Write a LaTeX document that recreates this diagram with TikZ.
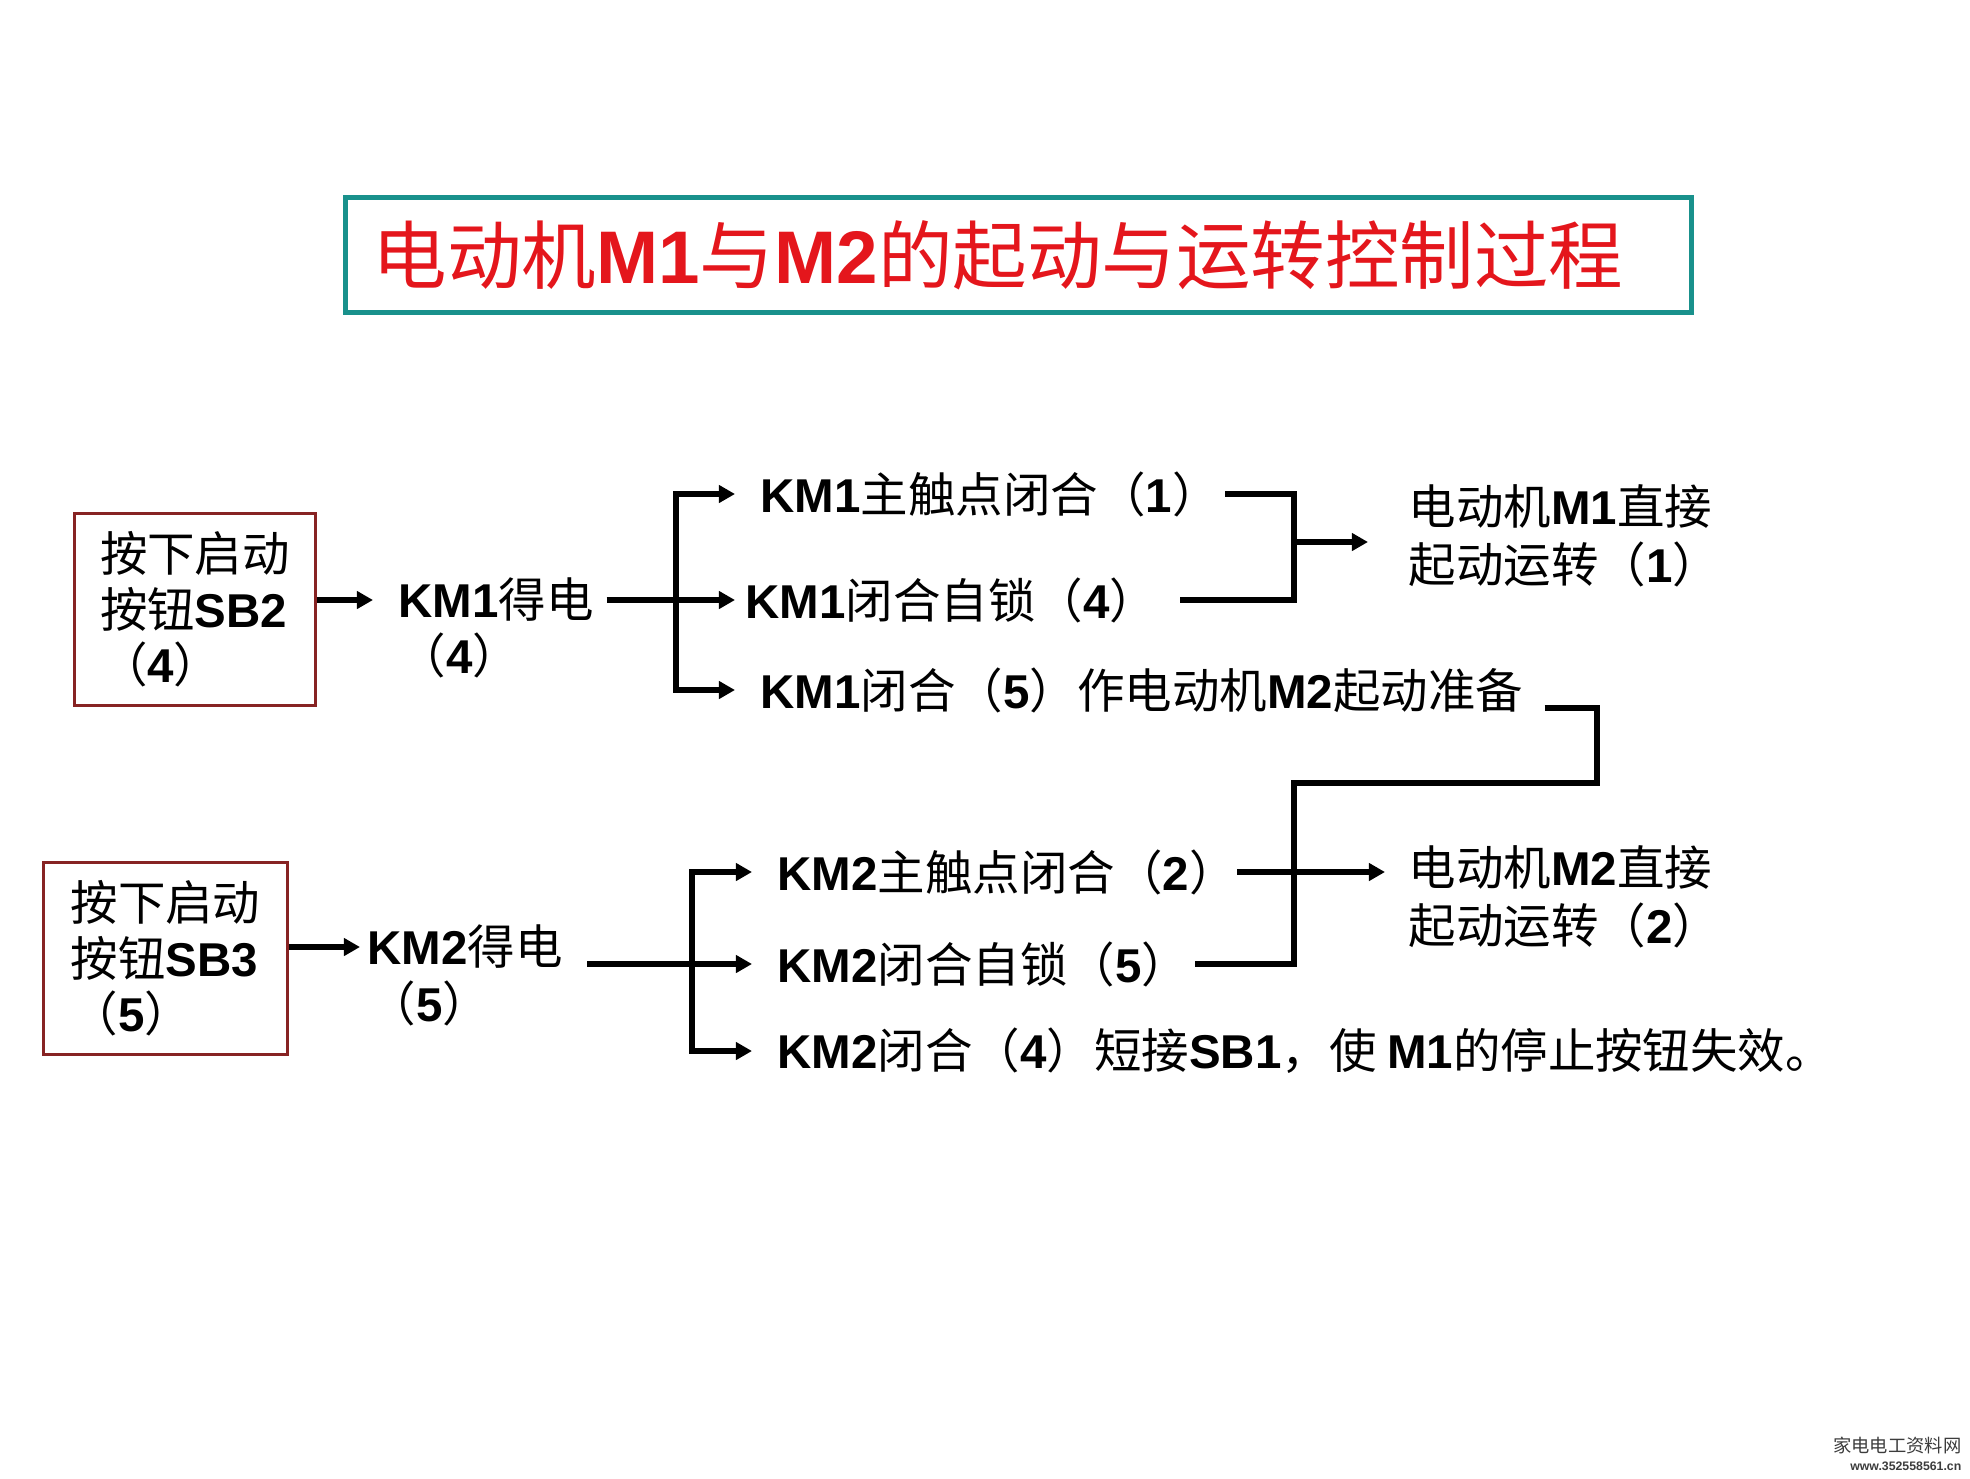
\documentclass[tikz,border=0pt]{standalone}
\usepackage{fontspec}
\setmainfont{Noto Sans CJK SC}
\newfontfamily\latfont{Liberation Sans}
\newcommand{\bw}[1]{{\latfont\bfseries #1}}
\usetikzlibrary{arrows.meta, shapes, positioning}

\definecolor{titleteal}{RGB}{25,145,140}
\definecolor{titlered}{RGB}{228,22,28}
\definecolor{boxred}{RGB}{135,35,35}
\definecolor{wmgray}{RGB}{60,60,60}

\tikzset{
	txt/.style={font=\fontsize{13.5}{15.8}\selectfont, inner sep=0pt, anchor=west},
	btn/.style={txt, draw=boxred, line width=0.8pt, align=left, anchor=north west, minimum height=1.92cm},
	wire/.style={line width=1.6pt},
	flow/.style={wire, -{Triangle[length=0.16cm, width=0.17cm]}}
}

\begin{document}
\begin{tikzpicture}[x=0.01cm, y=-0.01cm]
	\useasboundingbox (0,0) rectangle (1970,1478);

	% title
	\node[draw=titleteal, line width=1.5pt, anchor=north west, text width=12.91cm, inner xsep=0.27cm,
		minimum height=1.15cm, align=left, text=titlered, font=\fontsize{21.2}{24}\selectfont]
		(title) at (343,195) {电动机\bw{M1}与\bw{M2}的起动与运转控制过程};

	% M1
	\node[btn, minimum width=2.41cm] (sb2) at (73,512) {按下启动\\按钮\bw{SB2}\\（\bw{4}）};
	\node[txt] (km1) at (398,600) {\bw{KM1}得电};
	\node[txt] (km1n) at (398,655) {（\bw{4}）};
	\node[txt] (c11) at (760,494) {\bw{KM1}主触点闭合（\bw{1}）};
	\node[txt] (c12) at (745,600) {\bw{KM1}闭合自锁（\bw{4}）};
	\node[txt] (c13) at (760,690) {\bw{KM1}闭合（\bw{5}）作电动机\bw{M2}起动准备};
	\node[txt, align=left, font=\fontsize{13.5}{16.5}\selectfont] (r1) at (1408,536) {电动机\bw{M1}直接\\起动运转（\bw{1}）};

	\coordinate (b1) at (676,600);
	\coordinate (j1) at (1294,542);

	\draw[flow, shorten >=0.25cm] (sb2.east |- km1.west) -- (km1.west);
	\draw[flow, shorten <=0.12cm, shorten >=0.1cm] (km1.east) -- (c12.west);
	\draw[flow, shorten >=0.25cm] (b1) |- (c11.west);
	\draw[flow, shorten >=0.25cm] (b1) |- (c13.west);
	\draw[wire] ([xshift=0.05cm]c11.east) -| (j1) |- ([xshift=0.22cm]c12.east);
	\draw[flow, shorten >=0.4cm] (j1) -- (j1 -| r1.west);

	% M2
	\node[btn, minimum width=2.44cm] (sb3) at (42,861) {按下启动\\按钮\bw{SB3}\\（\bw{5}）};
	\node[txt] (km2) at (367,947) {\bw{KM2}得电};
	\node[txt] (km2n) at (368,1003) {（\bw{5}）};
	\node[txt] (c21) at (777,872) {\bw{KM2}主触点闭合（\bw{2}）};
	\node[txt] (c22) at (777,964) {\bw{KM2}闭合自锁（\bw{5}）};
	\node[txt] (c23) at (777,1051) {\bw{KM2}闭合（\bw{4}）短接\bw{SB1}，使 \bw{M1}的停止按钮失效。};
	\node[txt, align=left, font=\fontsize{13.5}{16.5}\selectfont] (r2) at (1408,897) {电动机\bw{M2}直接\\起动运转（\bw{2}）};

	\coordinate (s2) at (587,964);
	\coordinate (b2) at (692,964);
	\coordinate (j2) at (1294,874);
	\coordinate (hk) at (1597,783);

	\draw[flow, shorten >=0.07cm] (sb3.east |- km2.west) -- (km2.west);
	\draw[flow, shorten >=0.25cm] (s2) -- (c22.west);
	\draw[flow, shorten >=0.25cm] (b2) |- (c21.west);
	\draw[flow, shorten >=0.25cm] (b2) |- (c23.west);
	\draw[wire] ([shift={(0.21cm,-0.18cm)}]c13.east) -| (hk) -| (j2) |- ([xshift=0.05cm]c22.east);
	\draw[flow, shorten >=0.23cm] (c21.east) -- (c21.east -| r2.west);

	% watermark
	\node[inner sep=0pt, anchor=east, text=wmgray, font=\fontsize{5.2}{6}\selectfont] (wm1) at (1962,1445) {家电电工资料网};
	\node[inner sep=0pt, anchor=east, text=wmgray, font=\latfont\bfseries\fontsize{3.5}{4}\selectfont] (wm2) at (1962,1466) {www.352558561.cn};
\end{tikzpicture}
\end{document}
